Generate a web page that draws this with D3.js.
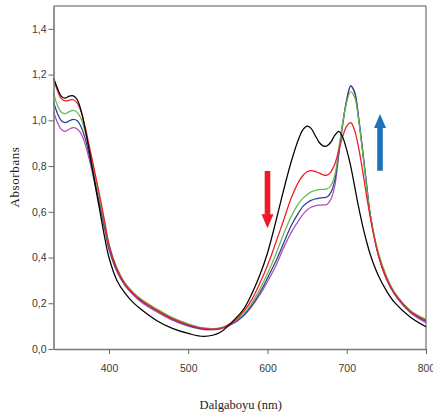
<!DOCTYPE html>
<html>
<head>
<meta charset="utf-8">
<script src="https://cdn.jsdelivr.net/npm/d3@7"></script>
<style>
    html, body { margin: 0; padding: 0; background: #fff; }
    svg { display: block; }
</style>
</head>
<body>
<svg id="chart" width="433" height="417"></svg>
<script>
// wavelength grid (nm)
var wavelengths = [330, 335, 340, 345, 350, 355, 360, 365, 370, 375, 380, 385, 390, 395, 400,
    410, 420, 430, 440, 460, 480, 500, 520, 540, 560, 570, 580, 590, 600, 610, 620, 630, 640,
    645, 650, 655, 660, 665, 670, 675, 680, 685, 690, 695, 700, 705, 710, 715, 720, 725, 730,
    740, 750, 760, 780, 800]

var blackSeries = [1.185, 1.14, 1.105, 1.097, 1.106, 1.107, 1.09, 1.04, 0.96, 0.87, 0.77, 0.67, 0.575, 0.48, 0.40,
    0.30, 0.245, 0.205, 0.175, 0.125, 0.09, 0.068, 0.055, 0.072, 0.135, 0.175, 0.24, 0.32, 0.42, 0.55, 0.69, 0.82, 0.925,
    0.96, 0.975, 0.965, 0.935, 0.905, 0.888, 0.888, 0.905, 0.935, 0.952, 0.925, 0.87, 0.80, 0.71, 0.62, 0.54, 0.47, 0.41,
    0.32, 0.255, 0.205, 0.14, 0.097]

var redSeries = [1.185, 1.13, 1.095, 1.085, 1.088, 1.09, 1.075, 1.035, 0.97, 0.89, 0.81, 0.725, 0.64, 0.55, 0.46,
    0.35, 0.285, 0.245, 0.215, 0.17, 0.133, 0.106, 0.09, 0.09, 0.128, 0.165, 0.215, 0.285, 0.365, 0.46, 0.56, 0.66, 0.735,
    0.76, 0.775, 0.78, 0.777, 0.77, 0.762, 0.76, 0.775, 0.81, 0.87, 0.93, 0.975, 0.99, 0.955, 0.88, 0.78, 0.67, 0.57,
    0.41, 0.31, 0.245, 0.165, 0.125]

var greenSeries = [1.12, 1.065, 1.035, 1.029, 1.038, 1.044, 1.035, 1.005, 0.95, 0.875, 0.795, 0.71, 0.625, 0.54, 0.455,
    0.355, 0.29, 0.25, 0.22, 0.176, 0.137, 0.11, 0.092, 0.092, 0.125, 0.155, 0.2, 0.26, 0.33, 0.41, 0.5, 0.58, 0.64,
    0.66, 0.675, 0.687, 0.693, 0.697, 0.698, 0.70, 0.715, 0.76, 0.88, 0.99, 1.08, 1.125, 1.10, 1.0, 0.86, 0.71, 0.58,
    0.42, 0.32, 0.25, 0.17, 0.13]

var blueSeries = [1.08, 1.03, 0.998, 0.99, 0.998, 1.004, 0.998, 0.97, 0.92, 0.85, 0.775, 0.69, 0.61, 0.525, 0.445,
    0.345, 0.283, 0.243, 0.212, 0.168, 0.13, 0.103, 0.087, 0.089, 0.12, 0.148, 0.19, 0.245, 0.31, 0.38, 0.46, 0.54, 0.60,
    0.625, 0.64, 0.65, 0.656, 0.66, 0.662, 0.665, 0.685, 0.74, 0.86, 0.99, 1.09, 1.15, 1.12, 1.01, 0.87, 0.72, 0.58,
    0.41, 0.31, 0.245, 0.165, 0.12]

var magentaSeries = [1.04, 0.99, 0.96, 0.952, 0.962, 0.968, 0.962, 0.94, 0.895, 0.83, 0.755, 0.675, 0.595, 0.515, 0.435,
    0.338, 0.278, 0.238, 0.207, 0.163, 0.126, 0.1, 0.085, 0.088, 0.118, 0.145, 0.185, 0.235, 0.295, 0.36, 0.44, 0.51, 0.565,
    0.59, 0.608, 0.62, 0.626, 0.629, 0.63, 0.632, 0.655, 0.715, 0.85, 0.98, 1.09, 1.152, 1.125, 1.01, 0.87, 0.72, 0.58,
    0.41, 0.305, 0.24, 0.16, 0.115]

var seriesColors = ['#000000', '#ed1c24', '#62bd48', '#2e3f98', '#b04fb5']

var xTicks = [400, 500, 600, 700, 800]
var yTicks = [0, 0.2, 0.4, 0.6, 0.8, 1.0, 1.2, 1.4]

// arrows: [wavelength, from, to]
var arrowDown = [600, 0.778, 0.528]
var arrowUp = [742, 0.78, 1.028]

var svg = d3.select('#chart')
const plotL = 53.5, plotR = 426, plotT = 6, plotB = 349

var x = d3.scaleLinear().domain([330, 800]).range([plotL, plotR])
var y = d3.scaleLinear().domain([0, 1.5]).range([plotB, plotT])

const commaFmt = v => d3.format('.1f')(v).replace('.', ',')

// frame (top + right)
svg.append('path')
    .attr('d', `M ${plotL} ${plotT} H ${plotR} V ${plotB}`)
    .attr('fill', 'none')
    .attr('stroke', '#555')
    .attr('stroke-width', 1)

// series
var line = d3.line()
    .x((d, i) => x(wavelengths[i]))
    .y(d => y(d))
    .curve(d3.curveCatmullRom.alpha(0.5))

var allSeries = [blackSeries, redSeries, greenSeries, blueSeries, magentaSeries]
var drawOrder = [4, 3, 2, 1, 0]
drawOrder.forEach(k => {
    svg.append('path')
        .datum(allSeries[k])
        .attr('d', line)
        .attr('fill', 'none')
        .attr('stroke', seriesColors[k])
        .attr('stroke-width', 1.25)
})

// axes
var xAxis = svg.append('g')
    .attr('transform', `translate(0,${plotB})`)
    .call(d3.axisBottom(x).tickValues(xTicks).tickSize(5).tickSizeOuter(0).tickFormat(d3.format('d')))
var yAxis = svg.append('g')
    .attr('transform', `translate(${plotL},0)`)
    .call(d3.axisLeft(y).tickValues(yTicks).tickSize(5).tickSizeOuter(0).tickFormat(commaFmt))

;[xAxis, yAxis].forEach(a => {
    a.select('.domain').attr('stroke', '#777').attr('stroke-width', 1.6)
    a.selectAll('.tick line').attr('stroke', '#666').attr('stroke-width', 1)
    a.selectAll('.tick text')
        .attr('fill', '#3a3a3a')
        .style('font-family', '"Liberation Sans", Arial, sans-serif')
        .style('font-size', '10.5px')
})
xAxis.selectAll('.tick text').attr('dy', '1.45em')
yAxis.selectAll('.tick text').attr('x', -7)

// axis titles
svg.append('text')
    .attr('x', (plotL + plotR) / 2 + 1)
    .attr('y', 409)
    .attr('text-anchor', 'middle')
    .style('font-family', '"Liberation Serif", "Times New Roman", serif')
    .style('font-size', '12.5px')
    .attr('fill', '#222')
    .text('Dalgaboyu (nm)')

svg.append('text')
    .attr('transform', 'translate(19,177) rotate(-90)')
    .attr('text-anchor', 'middle')
    .style('font-family', '"Liberation Serif", "Times New Roman", serif')
    .style('font-size', '13px')
    .style('letter-spacing', '0.6px')
    .attr('fill', '#222')
    .text('Absorbans')

// block arrows
function blockArrow(a, color) {
    var cx = x(a[0]), y0 = y(a[1]), y1 = y(a[2])
    var dir = y1 > y0 ? 1 : -1
    var headLen = 14, headW = 6, shaftW = 2.8
    var yb = y1 - dir * headLen
    var pts = [
        [cx - shaftW, y0], [cx + shaftW, y0], [cx + shaftW, yb], [cx + headW, yb],
        [cx, y1], [cx - headW, yb], [cx - shaftW, yb]
    ]
    svg.append('path')
        .attr('d', 'M' + pts.map(p => p.join(',')).join('L') + 'Z')
        .attr('fill', color)
}
blockArrow(arrowDown, '#ed1c24')
blockArrow(arrowUp, '#1f72b8')
</script>
</body>
</html>
